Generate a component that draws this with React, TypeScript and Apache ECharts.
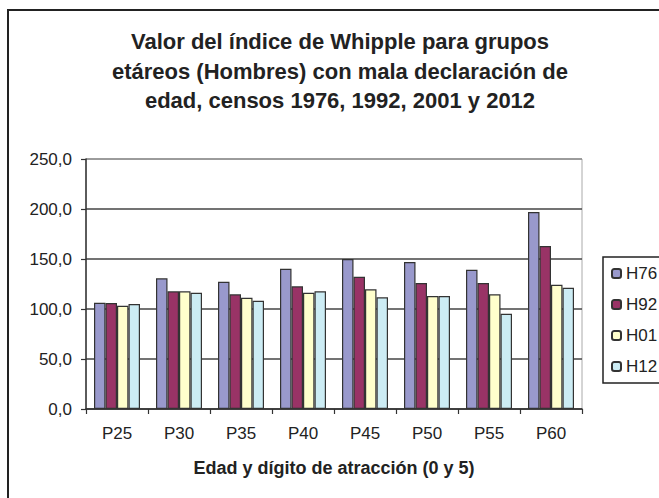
import React, { useEffect, useRef } from "react";
import * as echarts from "echarts";

const categories = ["P25", "P30", "P35", "P40", "P45", "P50", "P55", "P60"];
const H76 = [106.3, 130.7, 127.3, 140.3, 150.0, 147.0, 139.3, 197.0];
const H92 = [106.0, 117.7, 114.7, 122.7, 132.3, 126.0, 126.0, 163.0];
const H01 = [103.3, 117.7, 111.3, 116.3, 119.7, 113.0, 114.7, 124.3];
const H12 = [105.0, 116.3, 108.3, 117.7, 111.7, 113.0, 95.3, 121.3];
const seriesNames = ["H76", "H92", "H01", "H12"];
const seriesColors = ["#9999CC", "#993366", "#FFFFCC", "#CCECF4"];
const titleLines = [
  "Valor del índice de Whipple para grupos",
  "etáreos (Hombres) con mala declaración de",
  "edad, censos 1976, 1992, 2001 y 2012",
];
const xAxisName = "Edad y dígito de atracción (0 y 5)";

const FONT = "'Liberation Sans', Arial, sans-serif";

export default function App() {
  const ref = useRef<HTMLDivElement>(null);
  useEffect(() => {
    if (!ref.current) return;
    const chart = echarts.init(ref.current, null, { renderer: "svg" });
    const data = [H76, H92, H01, H12];
    chart.setOption({
      animation: false,
      backgroundColor: "#ffffff",
      textStyle: { fontFamily: FONT },
      graphic: [
        {
          type: "line",
          shape: { x1: 7, y1: 10, x2: 659, y2: 10 },
          style: { stroke: "#222", lineWidth: 2 },
        },
        {
          type: "line",
          shape: { x1: 8, y1: 9, x2: 8, y2: 498 },
          style: { stroke: "#222", lineWidth: 2 },
        },
        ...titleLines.map((t, i) => ({
          type: "text",
          x: 340,
          y: 41.5 + i * 29.7,
          style: {
            text: t,
            fontFamily: FONT,
            fontSize: 22,
            fontWeight: "bold",
            fill: "#222",
            textAlign: "center",
            textVerticalAlign: "middle",
          },
        })),
      ],
      grid: {
        left: 86,
        top: 159,
        width: 496,
        height: 250,
        show: true,
        borderColor: "#aaa",
        borderWidth: 1,
        backgroundColor: "transparent",
      },
      legend: {
        orient: "vertical",
        left: 603,
        top: 257,
        padding: [8, 12, 8, 8],
        itemWidth: 9,
        itemHeight: 9,
        itemGap: 14,
        borderColor: "#222",
        borderWidth: 1.5,
        data: seriesNames,
        textStyle: { fontFamily: FONT, fontSize: 17, lineHeight: 16, color: "#222" },
      },
      xAxis: {
        type: "category",
        data: categories,
        name: xAxisName,
        nameLocation: "middle",
        nameGap: 50,
        nameTextStyle: { fontFamily: FONT, fontSize: 18, fontWeight: "bold", color: "#222" },
        axisLine: { lineStyle: { color: "#333", width: 1.5 } },
        axisTick: { show: true, length: 5, lineStyle: { color: "#333", width: 1.2 } },
        axisLabel: { fontFamily: FONT, fontSize: 17, color: "#222", margin: 16 },
      },
      yAxis: {
        type: "value",
        min: 0,
        max: 250,
        interval: 50,
        axisLine: { show: true, lineStyle: { color: "#333", width: 1.5 } },
        axisTick: { show: true, length: 5, lineStyle: { color: "#333", width: 1.2 } },
        axisLabel: {
          fontFamily: FONT,
          fontSize: 17,
          color: "#222",
          margin: 14,
          formatter: (v: number) => v.toFixed(1).replace(".", ","),
        },
        splitLine: {
          show: true,
          lineStyle: { color: ["#444", "#444", "#444", "#444", "#444", "#888"], width: 1.5 },
        },
      },
      series: seriesNames.map((n, i) => ({
        name: n,
        type: "bar",
        data: data[i],
        barWidth: 11.5,
        barGap: "0%",
        itemStyle: { color: seriesColors[i], borderColor: "#333", borderWidth: 1.2 },
      })),
    });
    return () => chart.dispose();
  }, []);
  return (
    <div
      ref={ref}
      style={{ position: "absolute", left: 0, top: 0, width: 659, height: 498 }}
    />
  );
}
